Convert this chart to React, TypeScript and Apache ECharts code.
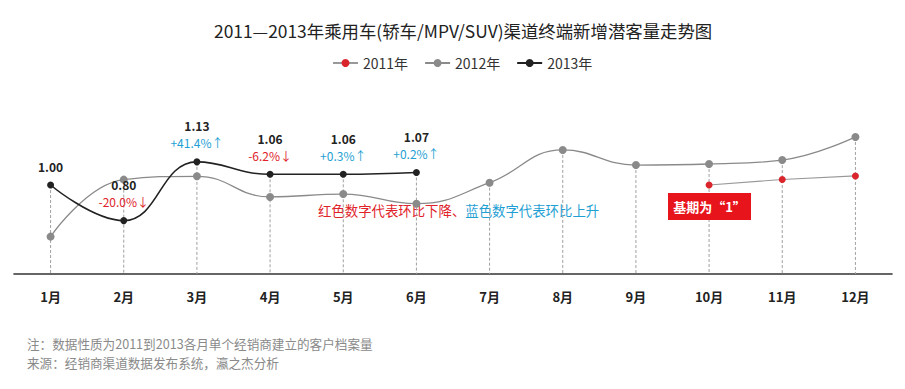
import React, { useEffect, useRef } from "react";
import * as echarts from "echarts";

const months = ["1月", "2月", "3月", "4月", "5月", "6月", "7月", "8月", "9月", "10月", "11月", "12月"];
const s2011: (number | null)[] = [null, null, null, null, null, null, null, null, null, 1.0, 1.031, 1.051];
const s2012: (number | null)[] = [0.71, 1.03, 1.049, 0.933, 0.949, 0.895, 1.013, 1.197, 1.112, 1.118, 1.14, 1.27];
const s2013: (number | null)[] = [1.0, 0.8, 1.13, 1.06, 1.06, 1.07, null, null, null, null, null, null];
const pct2013: (string | null)[] = [null, "-20.0%↓", "+41.4%↑", "-6.2%↓", "+0.3%↑", "+0.2%↑"];

const titleText = "2011—2013年乘用车(轿车/MPV/SUV)渠道终端新增潜客量走势图";
const noteLines = [
  "注：数据性质为2011到2013各月单个经销商建立的客户档案量",
  "来源：经销商渠道数据发布系统，瀛之杰分析",
];
const legendNote = { down: "红色数字代表环比下降、", up: "蓝色数字代表环比上升" };
const baseText = "基期为“1”";

const FONT = '"Microsoft YaHei", "Noto Sans CJK SC", sans-serif';
const RED = "#e0232b";
const BLUE = "#1f9fd3";

export default function App() {
  const ref = useRef<HTMLDivElement>(null);
  useEffect(() => {
    if (!ref.current) return;
    const chart = echarts.init(ref.current, null, { renderer: "svg" });
    const yMin = 0.5;
    const drops = months.map((_, i) => {
      const vals = [s2011[i], s2012[i], s2013[i]].filter((v) => v != null) as number[];
      return [i, Math.max(...vals)];
    });
    chart.setOption({
      animation: false,
      backgroundColor: "#ffffff",
      textStyle: { fontFamily: FONT },
      title: {
        text: titleText,
        left: 214,
        top: 22,
        padding: 0,
        textStyle: { fontSize: 17.4, fontWeight: "normal", color: "#222", fontFamily: FONT },
      },
      legend: {
        data: ["2011年", "2012年", "2013年"],
        top: 56,
        left: 332,
        padding: 0,
        itemGap: 16,
        itemWidth: 25,
        itemHeight: 10,
        textStyle: { fontSize: 14, color: "#333", fontFamily: FONT },
      },
      grid: { left: 14, right: 13, top: 96, bottom: 115 },
      xAxis: {
        type: "category",
        data: months,
        boundaryGap: true,
        axisLine: { lineStyle: { color: "#333", width: 1.6 } },
        axisTick: { show: false },
        axisLabel: { fontSize: 13, fontWeight: "bold", color: "#222", margin: 16, fontFamily: FONT },
      },
      yAxis: { type: "value", min: yMin, max: 1.5, show: false, splitLine: { show: false } },
      series: [
        {
          type: "custom",
          name: "drop",
          z: 1,
          silent: true,
          data: drops,
          renderItem: (params: any, api: any) => {
            const top = api.coord([api.value(0), api.value(1)]);
            const bot = api.coord([api.value(0), yMin]);
            return {
              type: "line",
              shape: { x1: top[0], y1: top[1], x2: bot[0], y2: bot[1] },
              style: { stroke: "#a0a0a0", lineWidth: 1, lineDash: [3, 2] },
            };
          },
        },
        {
          name: "2011年",
          type: "line",
          z: 3,
          data: s2011,
          symbol: "circle",
          symbolSize: 7,
          itemStyle: { color: "#d9252b" },
          lineStyle: { color: "#999", width: 1.2 },
        },
        {
          name: "2012年",
          type: "line",
          z: 3,
          smooth: 0.45,
          data: s2012,
          symbol: "circle",
          symbolSize: 8,
          itemStyle: { color: "#8a8a8a" },
          lineStyle: { color: "#8a8a8a", width: 1.3 },
        },
        {
          name: "2013年",
          type: "line",
          z: 4,
          smooth: 0.45,
          data: s2013,
          symbol: "circle",
          symbolSize: 7,
          itemStyle: { color: "#222" },
          lineStyle: { color: "#222", width: 1.6 },
          label: {
            show: true,
            position: "top",
            distance: 7,
            formatter: (p: any) => {
              const v = (p.value as number).toFixed(2);
              const pc = pct2013[p.dataIndex];
              if (!pc) return `{v|${v}}`;
              const up = pc.startsWith("+");
              return `{v|${v}}\n{${up ? "u" : "d"}|${pc}}`;
            },
            rich: {
              v: { fontSize: 12, fontWeight: "bold", color: "#222", lineHeight: 17, fontFamily: FONT },
              u: { fontSize: 12, color: BLUE, lineHeight: 17, fontFamily: FONT },
              d: { fontSize: 12, color: RED, lineHeight: 17, fontFamily: FONT },
            },
          },
        },
      ],
      graphic: [
        {
          type: "text",
          x: 318,
          y: 210,
          style: {
            text: `{r|${legendNote.down}}{b|${legendNote.up}}`,
            verticalAlign: "middle",
            rich: {
              r: { fontSize: 13.4, fill: RED, fontFamily: FONT },
              b: { fontSize: 13.4, fill: BLUE, fontFamily: FONT },
            },
          },
        },
        {
          type: "rect",
          shape: { x: 668, y: 193, width: 83, height: 27 },
          style: { fill: "#e8141c" },
          z: 10,
        },
        {
          type: "text",
          x: 709.5,
          y: 206.5,
          z: 11,
          style: {
            text: baseText,
            fill: "#fff",
            fontSize: 13,
            fontWeight: "bold",
            fontFamily: FONT,
            align: "center",
            verticalAlign: "middle",
          },
        },
        {
          type: "text",
          x: 27,
          y: 343.5,
          style: { text: noteLines[0], fill: "#8a8a8a", fontSize: 12.6, fontFamily: FONT, verticalAlign: "middle" },
        },
        {
          type: "text",
          x: 27,
          y: 362.5,
          style: { text: noteLines[1], fill: "#8a8a8a", fontSize: 12.6, fontFamily: FONT, verticalAlign: "middle" },
        },
      ],
    });
    return () => chart.dispose();
  }, []);
  return (
    <div
      ref={ref}
      style={{ position: "absolute", left: 0, top: 0, width: 905, height: 389, background: "#fff" }}
    />
  );
}
